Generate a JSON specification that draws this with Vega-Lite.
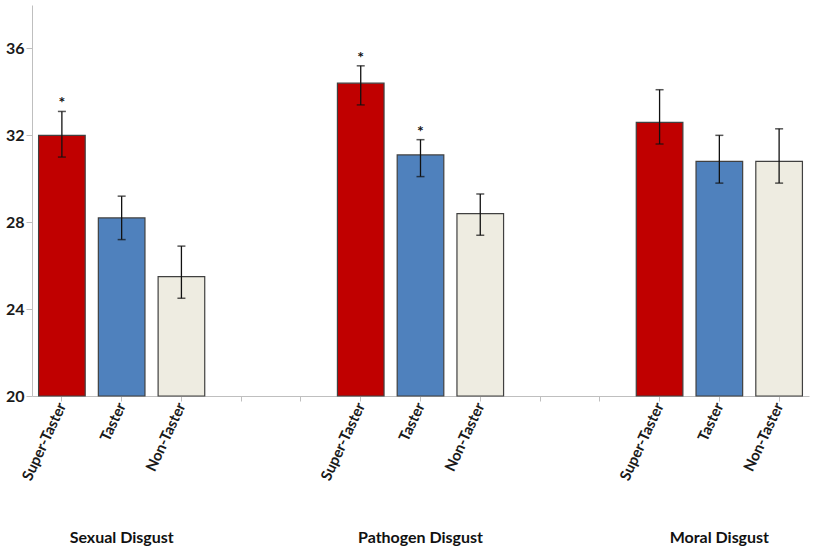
{
  "$schema": "https://vega.github.io/schema/vega-lite/v6.json",
  "width": 777,
  "height": 391,
  "view": {"stroke": null},
  "data": {"values": [
      {"group": "Sexual Disgust", "taster": "Super-Taster", "key": "Sexual|Super-Taster", "val": 32.0, "lo": 31.0, "hi": 33.1, "sig": true},
      {"group": "Sexual Disgust", "taster": "Taster", "key": "Sexual|Taster", "val": 28.2, "lo": 27.2, "hi": 29.2, "sig": false},
      {"group": "Sexual Disgust", "taster": "Non-Taster", "key": "Sexual|Non-Taster", "val": 25.5, "lo": 24.5, "hi": 26.9, "sig": false},
      {"group": "Pathogen Disgust", "taster": "Super-Taster", "key": "Pathogen|Super-Taster", "val": 34.4, "lo": 33.4, "hi": 35.2, "sig": true},
      {"group": "Pathogen Disgust", "taster": "Taster", "key": "Pathogen|Taster", "val": 31.1, "lo": 30.1, "hi": 31.8, "sig": true},
      {"group": "Pathogen Disgust", "taster": "Non-Taster", "key": "Pathogen|Non-Taster", "val": 28.4, "lo": 27.4, "hi": 29.3, "sig": false},
      {"group": "Moral Disgust", "taster": "Super-Taster", "key": "Moral|Super-Taster", "val": 32.6, "lo": 31.6, "hi": 34.1, "sig": false},
      {"group": "Moral Disgust", "taster": "Taster", "key": "Moral|Taster", "val": 30.8, "lo": 29.8, "hi": 32.0, "sig": false},
      {"group": "Moral Disgust", "taster": "Non-Taster", "key": "Moral|Non-Taster", "val": 30.8, "lo": 29.8, "hi": 32.3, "sig": false}
  ]},
  "encoding": {
    "x": {
      "field": "key", "type": "nominal",
      "scale": {
        "domain": ["Sexual|Super-Taster", "Sexual|Taster", "Sexual|Non-Taster", "gap1", "gap2",
                   "Pathogen|Super-Taster", "Pathogen|Taster", "Pathogen|Non-Taster", "gap3", "gap4",
                   "Moral|Super-Taster", "Moral|Taster", "Moral|Non-Taster"],
        "paddingInner": 0.22, "paddingOuter": 0.11
      },
      "axis": {
        "title": null,
        "labelExpr": "indexof(datum.value, '|') > 0 ? split(datum.value, '|')[1] : ''",
        "labelAngle": -65,
        "labelFont": "Lato",
        "labelFontSize": 15,
        "labelFontWeight": "bold",
        "labelColor": "#1a1a1a",
        "tickSize": 5,
        "tickColor": "#bfbfbf",
        "domainColor": "#bfbfbf",
        "grid": false
      }
    }
  },
  "layer": [
    {
      "mark": {"type": "bar", "stroke": "#404040", "strokeWidth": 1.2},
      "encoding": {
        "y": {
          "field": "val", "type": "quantitative",
          "scale": {"domain": [20, 38]},
          "axis": {
            "title": null,
            "values": [20, 24, 28, 32, 36],
            "labelFont": "Lato",
            "labelFontSize": 16,
            "labelFontWeight": "bold",
            "labelColor": "#1a1a1a",
            "tickSize": 6,
            "tickColor": "#bfbfbf",
            "domainColor": "#bfbfbf",
            "grid": false
          }
        },
        "y2": {"datum": 20},
        "color": {
          "field": "taster", "type": "nominal",
          "scale": {"domain": ["Super-Taster", "Taster", "Non-Taster"], "range": ["#C00000", "#4F81BD", "#EEECE1"]},
          "legend": null
        }
      }
    },
    {
      "mark": {"type": "rule", "color": "#111111", "strokeWidth": 1.3},
      "encoding": {
        "y": {"field": "lo", "type": "quantitative"},
        "y2": {"field": "hi"}
      }
    },
    {
      "mark": {"type": "tick", "color": "#111111", "thickness": 1.5, "size": 8},
      "encoding": {
        "y": {"field": "lo", "type": "quantitative"}
      }
    },
    {
      "mark": {"type": "tick", "color": "#111111", "thickness": 1.5, "size": 8},
      "encoding": {
        "y": {"field": "hi", "type": "quantitative"}
      }
    },
    {
      "transform": [{"filter": "datum.sig"}],
      "mark": {"type": "text", "text": "*", "font": "Lato", "fontSize": 16, "fontWeight": "bold", "baseline": "alphabetic", "dy": -3, "color": "#111111"},
      "encoding": {
        "y": {"field": "hi", "type": "quantitative"}
      }
    },
    {
      "transform": [{"filter": "datum.taster == 'Taster'"}],
      "mark": {"type": "text", "font": "Lato", "fontSize": 16, "fontWeight": "bold", "baseline": "middle", "align": "center", "color": "#111111"},
      "encoding": {
        "y": {"datum": 13.47},
        "text": {"field": "group", "type": "nominal"}
      }
    }
  ]
}
